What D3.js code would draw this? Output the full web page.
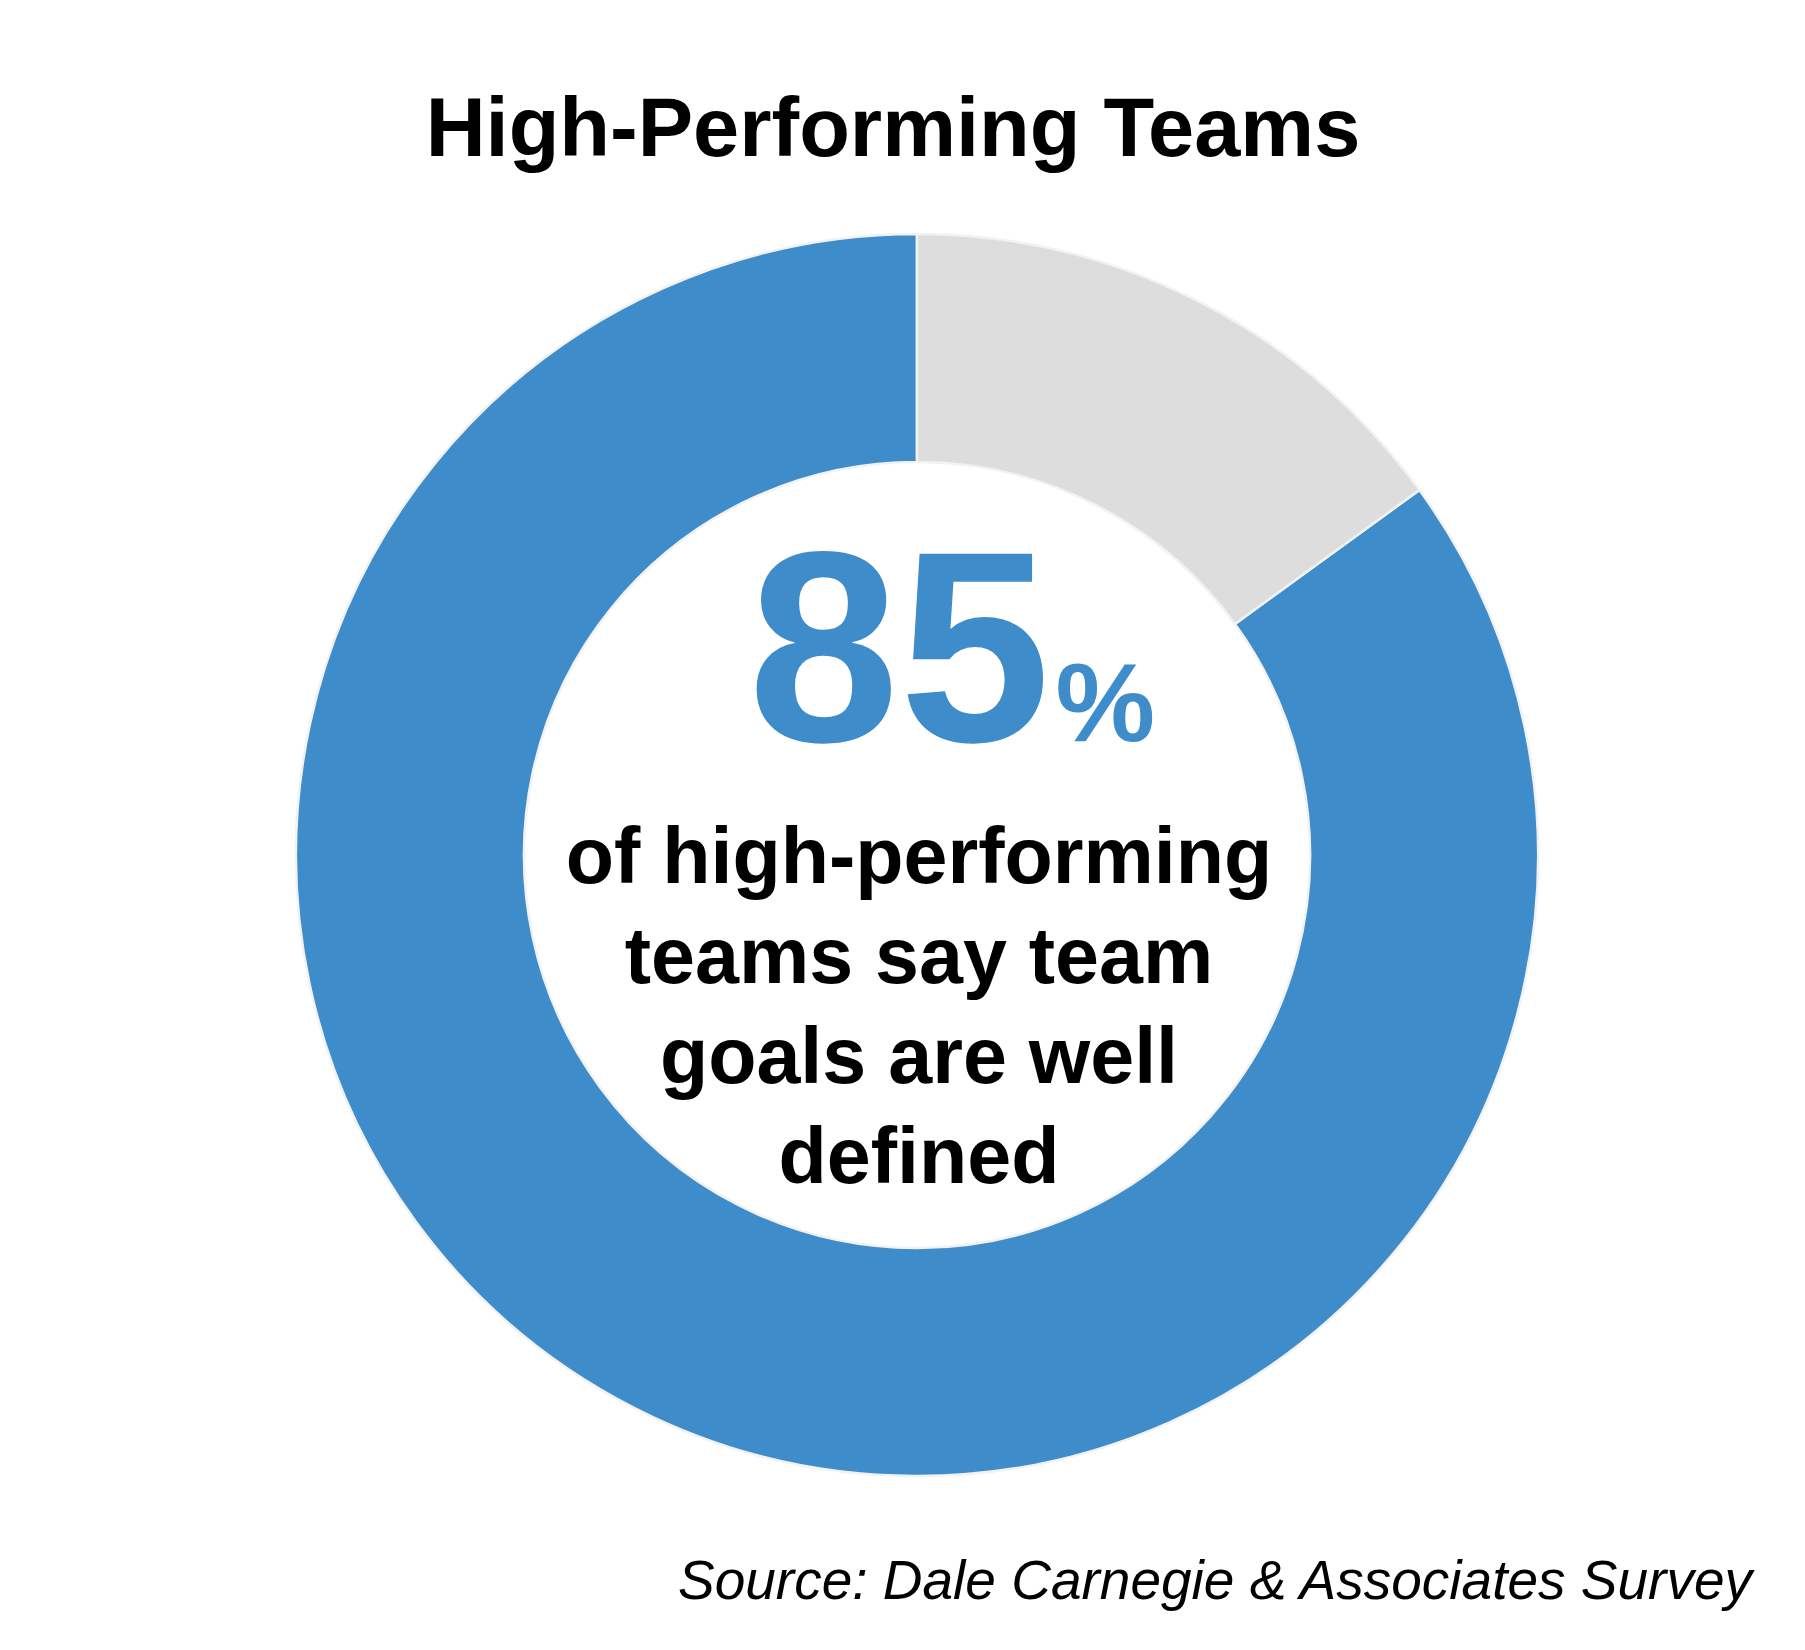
<!DOCTYPE html>
<html>
<head>
  <meta charset="UTF-8">
  <title>High-Performing Teams</title>
  <style>
    body { margin: 0; background: #fff; }
    svg { display: block; }
  </style>
</head>
<body>
<svg></svg>
<script src="https://d3js.org/d3.v7.min.js"></script>
<script>

// data
let categories = ["Goals well defined", "Other"];
let values = [85, 15];
let colors = ["#3e8dca", "#dddddd"];
let headline = "85";
let caption = ["of high-performing", "teams say team", "goals are well", "defined"];

let width = 1805, height = 1650;
let cx = 917, cy = 855, outerR = 621, innerR = 393;

let svg = d3.select("svg")
    .attr("width", width)
    .attr("height", height)
    .attr("viewBox", "0 0 " + width + " " + height)
    .style("font-family", "'Liberation Sans', Arial, Helvetica, sans-serif");

// title
svg.append("text")
    .attr("x", 893)
    .attr("y", 156)
    .attr("text-anchor", "middle")
    .style("font-size", "83px")
    .style("font-weight", "bold")
    .text("High-Performing Teams");

// donut, blue slice starts right after the gray one (gray sits at 12 o'clock)
let total = d3.sum(values);
let start = 2 * Math.PI * values[1] / total;
let pie = d3.pie()
    .sort(null)
    .startAngle(start)
    .endAngle(start + 2 * Math.PI);

let arc = d3.arc()
    .innerRadius(innerR)
    .outerRadius(outerR);

let color = d3.scaleOrdinal().domain(categories).range(colors);

let g = svg.append("g")
    .attr("transform", "translate(" + cx + "," + cy + ")");

g.selectAll("path")
    .data(pie(values))
    .enter()
    .append("path")
      .attr("d", arc)
      .attr("fill", (d, i) => color(categories[i]))
      .attr("stroke", "#f2f2f2")
      .attr("stroke-width", 2.5);

// big number
let big = svg.append("text")
    .attr("x", 748)
    .attr("y", 741)
    .attr("fill", colors[0])
    .style("font-weight", "bold");
big.append("tspan")
    .style("font-size", "272px")
    .text(headline);
big.append("tspan")
    .attr("dx", 5)
    .style("font-size", "112px")
    .text("%");

// caption lines
svg.append("g")
  .selectAll("text")
  .data(caption)
  .enter()
  .append("text")
    .attr("x", 919)
    .attr("y", (d, i) => 883 + i * 100)
    .attr("text-anchor", "middle")
    .style("font-size", "79px")
    .style("font-weight", "bold")
    .text(d => d);

// source
svg.append("text")
    .attr("x", 1752)
    .attr("y", 1599)
    .attr("text-anchor", "end")
    .style("font-size", "55px")
    .style("font-style", "italic")
    .text("Source: Dale Carnegie & Associates Survey");

</script>
</body>
</html>
